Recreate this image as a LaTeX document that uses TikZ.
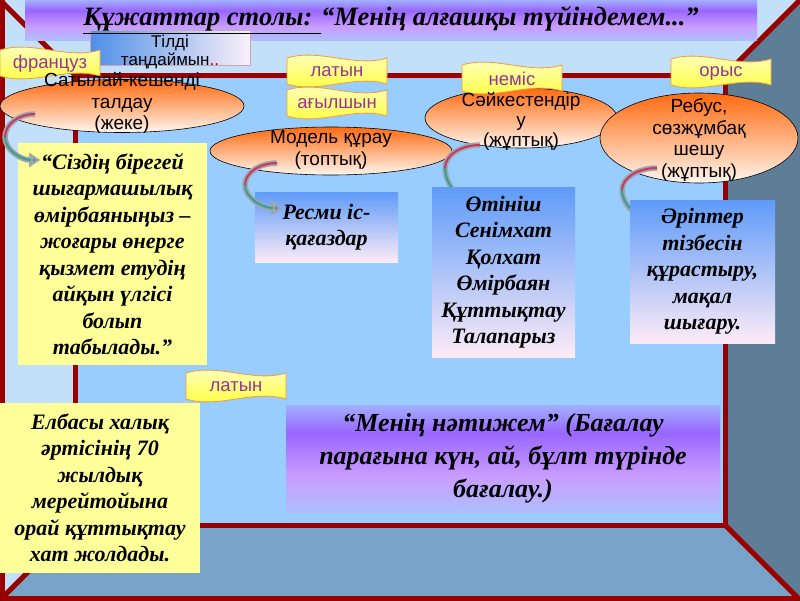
\documentclass[tikz,border=0pt]{standalone}
\usepackage{fontspec}
\setmainfont{Liberation Serif}
\setsansfont{Liberation Sans}
\usetikzlibrary{arrows.meta,calc,shapes.geometric}
\definecolor{wallBlue}{HTML}{99CCFF}
\definecolor{sideBlue}{HTML}{C2E0FA}
\definecolor{floorBlue}{HTML}{79A3C9}
\definecolor{rightSlate}{HTML}{5E7E97}
\definecolor{frameRed}{HTML}{990000}
\definecolor{noteYellow}{HTML}{FFFF99}
\definecolor{ovalOrange}{HTML}{FF6A10}
\definecolor{ovalLight}{HTML}{FFF6EE}
\definecolor{flagYellow}{HTML}{FFFF33}
\definecolor{flagPale}{HTML}{FFFFCC}
\definecolor{flagEdge}{HTML}{F29A3C}
\definecolor{flagInk}{HTML}{993399}
\definecolor{cardBlue}{HTML}{5F9BF8}
\definecolor{cardPink}{HTML}{FDEBF7}
\definecolor{pickBlue}{HTML}{4F8FE8}
\definecolor{pickPale}{HTML}{FAF0F8}
\definecolor{pickEdge}{HTML}{C8A8B8}
\definecolor{bandLav}{HTML}{D2D0FF}
\definecolor{bandBlue}{HTML}{A4CCFF}
\definecolor{bandPurple}{HTML}{9966FF}
\definecolor{bandPink}{HTML}{C99CFF}
\definecolor{curlGray}{HTML}{9AA8A8}
\definecolor{curlRed}{HTML}{CC3366}
\definecolor{curlTeal}{HTML}{3A9C9A}
\definecolor{curlTip}{HTML}{4A86B8}
\pgfdeclareverticalshading{bandShade}{100bp}{color(0bp)=(bandLav); color(18bp)=(bandBlue); color(42bp)=(bandPink); color(62bp)=(bandPurple); color(80bp)=(bandBlue); color(100bp)=(bandLav)}
\tikzset{
  frameLine/.style={draw=frameRed, line width=5pt},
  band/.style={rectangle, shading=bandShade, align=center, inner sep=0pt},
  pick/.style={rectangle, left color=pickBlue, right color=pickPale, draw=pickEdge, line width=0.8pt, align=center, inner sep=0pt},
  pickText/.style={font=\sffamily\fontsize{17}{18}\selectfont, align=center, inner sep=0pt},
  oval/.style={ellipse, draw=black, line width=0.6pt, top color=ovalOrange, bottom color=ovalLight, inner sep=0pt},
  ovalText/.style={font=\sffamily\fontsize{19}{21.5}\selectfont, align=center, inner sep=0pt},
  flagBody/.style={top color=flagPale, bottom color=flagYellow, draw=flagEdge, line width=0.8pt},
  flagLabel/.style={font=\sffamily\fontsize{18.5}{20}\selectfont, text=flagInk, inner sep=0pt},
  note/.style={rectangle, fill=noteYellow, align=center, inner sep=0pt, font=\bfseries\itshape\fontsize{22}{26.5}\selectfont},
  card/.style={rectangle, top color=cardBlue, bottom color=cardPink, align=center, inner sep=0pt, font=\bfseries\itshape\fontsize{22}{26.5}\selectfont},
  curlShadow/.style={draw=curlGray, line width=5.5pt, -{Triangle[length=11pt,width=14pt]}},
  curlCore/.style={line width=2pt},
  curlHead/.style={-{Triangle[length=9pt,width=11pt,color=curlGray,fill=curlTip]}}
}
\newcommand{\wavyFlag}[4]{%
  \path[flagBody] ($(#2,#3)+(-50,-13)$) .. controls ($(#2,#3)+(-17,-23)$) and ($(#2,#3)+(17,-3)$) .. ($(#2,#3)+(50,-13)$)
    -- ($(#2,#3)+(50,13)$) .. controls ($(#2,#3)+(17,3)$) and ($(#2,#3)+(-17,23)$) .. ($(#2,#3)+(-50,13)$) -- cycle;
  \node[flagLabel] (#1) at ($(#2,#3)+(0,1)$) {#4};
}
\newcommand{\curlArrow}[3]{%
  \draw[curlShadow] (#1) .. controls ($(#1)!0.55!(#2|-#1)$) and ($(#2)!0.55!(#2|-#1)$) .. (#2)
    .. controls ($(#2)!0.55!(#2|-#3)$) and ($(#3)!0.55!(#2|-#3)$) .. (#3);
  \draw[curlCore, curlRed] (#1) .. controls ($(#1)!0.55!(#2|-#1)$) and ($(#2)!0.55!(#2|-#1)$) .. (#2);
  \draw[curlCore, curlTeal, curlHead] (#2) .. controls ($(#2)!0.55!(#2|-#3)$) and ($(#3)!0.55!(#2|-#3)$) .. (#3);
}

\begin{document}
\begin{tikzpicture}[x=1pt,y=-1pt]
\useasboundingbox (0,0) rectangle (800,600);

% --------------------------------------------------------------------------
% Room
% --------------------------------------------------------------------------
\fill[sideBlue] (0,0) rectangle (800,600);
\fill[wallBlue] (75,75) rectangle (725,525);
\fill[rightSlate] (800,0) -- (725,75) -- (725,525) -- (800,600) -- cycle;
\fill[floorBlue] (0,600) -- (75,525) -- (725,525) -- (800,600) -- cycle;
\draw[frameLine] (75,75) rectangle (725,525);
\draw[frameLine] (0,0) -- (75,75);
\draw[frameLine] (800,0) -- (725,75);
\draw[frameLine] (0,600) -- (75,525);
\draw[frameLine] (800,600) -- (725,525);
\draw[frameLine] (2,0) -- (2,600);
\draw[frameLine] (0,598) -- (800,598);

% --------------------------------------------------------------------------
% Title
% --------------------------------------------------------------------------
\node[band, minimum width=732pt, minimum height=40pt] (titleBand) at (391,20) {};
\node[pick, minimum width=160pt, minimum height=35pt] (pickLang) at (170,48) {};
\node[pickText] (pickText) at ($(pickLang)+(0,4)$) {Тілді\\таңдаймын{\color{red!70!black}..}};
\node[font=\bfseries\itshape\fontsize{26.5}{28}\selectfont, inner sep=0pt] (titleText) at (391,20) {\underline{Құжаттар столы: }“Менің алғашқы түйіндемем...”};

% --------------------------------------------------------------------------
% Tasks
% --------------------------------------------------------------------------
\node[oval, minimum width=244pt, minimum height=53pt] (ovalSplit) at (122,106) {};
\node[oval, minimum width=242pt, minimum height=48pt] (ovalModel) at (331,151) {};
\node[oval, minimum width=192pt, minimum height=60pt] (ovalMatch) at (521,118) {};
\node[oval, minimum width=198pt, minimum height=90pt] (ovalRebus) at (699,138) {};

\wavyFlag{langFr}{50}{63}{француз}
\wavyFlag{langLat}{337}{71}{латын}
\wavyFlag{langEn}{337}{103}{ағылшын}
\wavyFlag{langDe}{512}{78}{неміс}
\wavyFlag{langRu}{721}{72}{орыс}

\node[ovalText] (splitText) at ($(ovalSplit)+(0,-3)$) {Сатылай-кешенді\\талдау\\(жеке)};
\node[ovalText] (modelText) at ($(ovalModel)+(0,-1)$) {Модель құрау\\(топтық)};
\node[ovalText, font=\sffamily\fontsize{19}{20}\selectfont] (matchText) at ($(ovalMatch)+(0,3)$) {Сәйкестендір\\у\\(жұптық)};
\node[ovalText] (rebusText) at ($(ovalRebus)+(0,2)$) {Ребус,\\сөзжұмбақ\\шешу\\(жұптық)};

% --------------------------------------------------------------------------
% Results
% --------------------------------------------------------------------------
\coordinate (curlMatchA) at (480,145);
\coordinate (curlMatchB) at (445,168);
\coordinate (curlMatchC) at (472,196);
\curlArrow{curlMatchA}{curlMatchB}{curlMatchC}
\coordinate (curlRebusA) at (657,168);
\coordinate (curlRebusB) at (622,190);
\coordinate (curlRebusC) at (645,212);
\curlArrow{curlRebusA}{curlRebusB}{curlRebusC}

\node[note, minimum width=189pt, minimum height=222pt] (quoteNote) at (112.5,254) {“Сіздің бірегей\\шығармашылық\\өмірбаяныңыз –\\жоғары өнерге\\қызмет етудің\\айқын үлгісі\\болып\\табылады.”};
\node[card, minimum width=143pt, minimum height=70pt] (paperCard) at (326.5,227) {Ресми іс-\\қағаздар};
\node[card, minimum width=143pt, minimum height=170pt] (docCard) at (503.5,272) {Өтініш\\Сенімхат\\Қолхат\\Өмірбаян\\Құттықтау\\Талапарыз};
\node[card, minimum width=145pt, minimum height=143pt] (wordCard) at (702.5,271.5) {Әріптер\\тізбесін\\құрастыру,\\мақал\\шығару.};

\coordinate (curlSplitA) at (35,114);
\coordinate (curlSplitB) at (5,137);
\coordinate (curlSplitC) at (40,160);
\curlArrow{curlSplitA}{curlSplitB}{curlSplitC}
\coordinate (curlModelA) at (277,163);
\coordinate (curlModelB) at (245,185);
\coordinate (curlModelC) at (282,208);
\curlArrow{curlModelA}{curlModelB}{curlModelC}

% --------------------------------------------------------------------------
% Bottom row
% --------------------------------------------------------------------------
\wavyFlag{langLatLow}{236}{386}{латын}
\node[note, minimum width=200pt, minimum height=170pt] (jubileeNote) at (100,488) {Елбасы халық\\әртісінің 70\\жылдық\\мерейтойына\\орай құттықтау\\хат жолдады.};
\node[band, minimum width=434pt, minimum height=107pt, font=\bfseries\itshape\fontsize{26}{33}\selectfont] (resultBand) at (503,458.5) {“Менің нәтижем” (Бағалау\\парағына күн, ай, бұлт түрінде\\бағалау.)};

\end{tikzpicture}
\end{document}
